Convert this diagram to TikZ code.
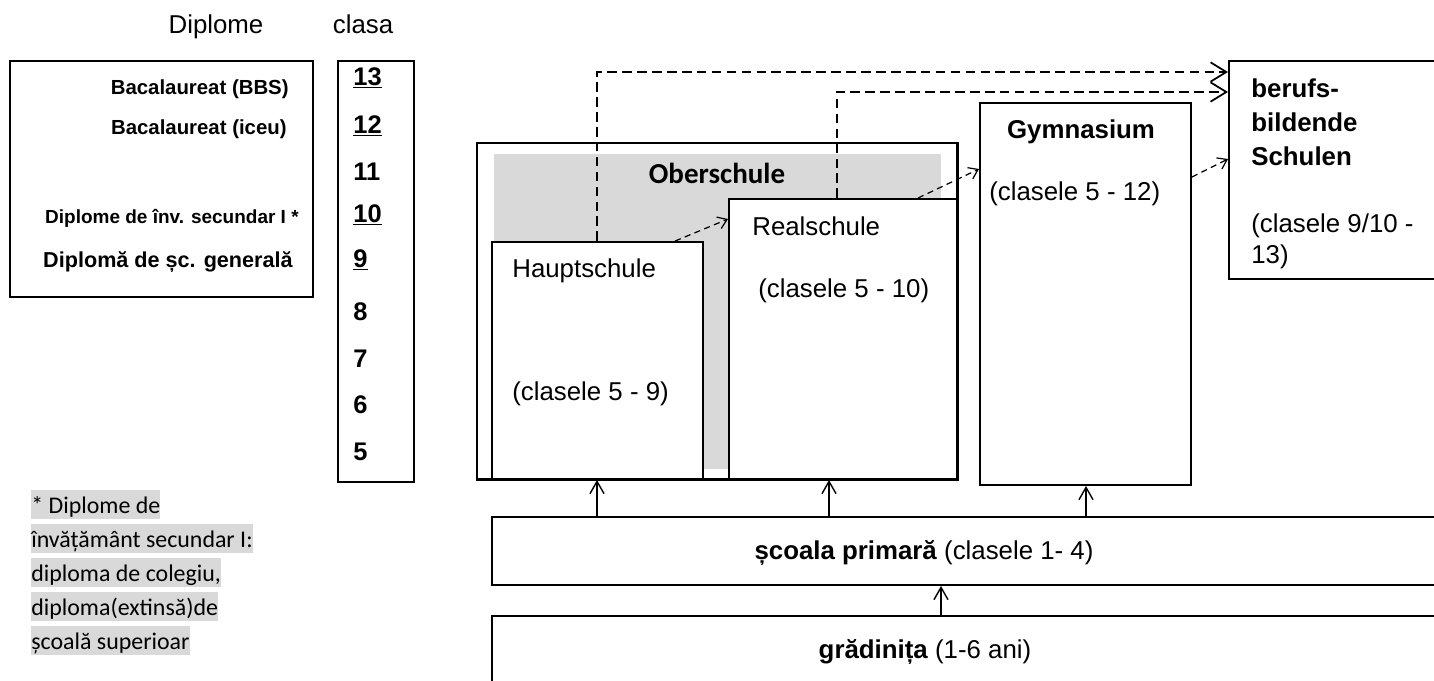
\documentclass[tikz,border=0pt]{standalone}
\usepackage{fontspec}
\setmainfont{Liberation Sans}[BoldFont={Liberation Sans Bold}]
\newfontfamily\calibri{Carlito}[BoldFont={Carlito Bold}]
\usetikzlibrary{arrows.meta,fit}
\definecolor{hilite}{RGB}{217,217,217}
\tikzset{
    box/.style={draw, line width=1.1pt, inner sep=0pt},
    lbl/.style={anchor=base west, inner sep=0pt, font=\fontsize{14.7}{17}\selectfont},
    blbl/.style={lbl, font=\bfseries\fontsize{14.7}{17}\selectfont},
    dlbl/.style={anchor=base east, inner sep=0pt, font=\bfseries\fontsize{11.6}{14}\selectfont},
    note/.style={anchor=base west, fill=hilite, inner sep=0pt, text height=13pt, text depth=3.4pt,
        font=\calibri\fontsize{13.6}{16}\selectfont},
    bigdash/.style={line width=1pt, dash pattern=on 5.5pt off 3pt, -{Straight Barb[length=9pt,width=11pt]}},
    smalldash/.style={line width=0.7pt, dash pattern=on 3.5pt off 2.5pt, -{Straight Barb[length=5pt,width=7pt]}},
    uparrow/.style={line width=0.8pt, -{Straight Barb[length=7pt,width=8pt]}}
}

\begin{document}
\begin{tikzpicture}[x=0.02cm,y=-0.02cm]
    \useasboundingbox (0,0) rectangle (1434,680);
    \clip (0,0) rectangle (1434,680);

    % headings
    \node[lbl, anchor=base] (hdipl) at (216,33) {Diplome};
    \node[lbl, anchor=base] (hcls) at (363,33) {clasa};

    % diplomas
    \node[box, fit={(10,61) (313,297)}] (dipl) {};
    \node[dlbl] (dbbs) at (289,94) {Bacalaureat (BBS)};
    \node[dlbl] (dlic) at (287,134) {Bacalaureat (iceu)};
    \node[dlbl, font=\bfseries\fontsize{10.8}{13}\selectfont] (dsec) at (299,223) {Diplome de înv. secundar I *};
    \node[dlbl, font=\bfseries\fontsize{12.3}{14}\selectfont] (dgen) at (293,267) {Diplomă de șc. generală};

    % classes
    \node[box, fit={(338,61) (414,482)}] (cls) {};
    \foreach \n/\yy [count=\i] in {{\underline{13}}/85, {\underline{12}}/133, 11/180, {\underline{10}}/222,
        {\underline{9}}/267, 8/320, 7/367, 6/413, 5/460}
        \node[blbl, font=\bfseries\fontsize{14.5}{17}\selectfont] (c\i) at (353,\yy) {\n};

    % footnote
    \foreach \t [count=\i from 0] in {* Diplome de, învățământ secundar I:, {diploma de colegiu,},
        diploma(extinsă)de, școală superioar}
        \node[note] (fn\i) at (31,513+34*\i) {\t};

    % Oberschule
    \node[box, line width=1.7pt, fit={(477,143) (957,479)}] (ober) {};
    \fill[hilite] (494,154) rectangle (941,469);
    \node[anchor=base, inner sep=0pt, font=\calibri\bfseries\fontsize{16.5}{19}\selectfont] (tober) at (717,183) {Oberschule};

    \node[box, fill=white, fit={(492,242) (703,479)}] (haupt) {};
    \node[lbl] (thaupt) at (512,277) {Hauptschule};
    \node[lbl] (khaupt) at (512,400) {(clasele 5 - 9)};

    \node[box, fill=white, fit={(729,199) (957,479)}] (real) {};
    \node[lbl] (treal) at (752,235) {Realschule};
    \node[lbl] (kreal) at (758,297) {(clasele 5 - 10)};

    % Gymnasium
    \node[box, fit={(980,103) (1191,485)}] (gym) {};
    \node[blbl, anchor=base] (tgym) at (1081,138) {Gymnasium};
    \node[lbl] (kgym) at (989,200) {(clasele 5 - 12)};

    % berufsbildende Schulen
    \node[box, fit={(1229,61) (1460,279)}] (beruf) {};
    \node[blbl] (tber1) at (1251,97) {berufs-};
    \node[blbl] (tber2) at (1251,131) {bildende};
    \node[blbl] (tber3) at (1251,165) {Schulen};
    \node[lbl] (kber1) at (1251,232) {(clasele 9/10 -};
    \node[lbl] (kber2) at (1251,263) {13)};

    % primary school and kindergarten
    \node[box, fit={(492,517) (1460,585)}] (prim) {};
    \node[lbl, anchor=base] (tprim) at (924,559) {\textbf{școala primară} (clasele 1- 4)};
    \node[box, fit={(492,616) (1460,700)}] (kita) {};
    \node[lbl, anchor=base] (tkita) at (925,658) {\textbf{grădinița} (1-6 ani)};

    % transitions
    \draw[bigdash] (597,0 |- haupt.north) |- (beruf.west |- 0,72);
    \draw[bigdash] (837,0 |- real.north) |- (beruf.west |- 0,92);
    \draw[smalldash] (675,0 |- haupt.north) -- (real.west |- 0,219);
    \draw[smalldash] (918,0 |- real.north) -- (gym.west |- 0,169);
    \draw[smalldash] (gym.east |- 0,177) -- (beruf.west |- 0,159);

    \draw[uparrow] (597,0 |- prim.north) -- (597,0 |- haupt.south);
    \draw[uparrow] (829,0 |- prim.north) -- (829,0 |- real.south);
    \draw[uparrow] (1086,0 |- prim.north) -- (1086,0 |- gym.south);
    \draw[uparrow] (941,0 |- kita.north) -- (941,0 |- prim.south);
\end{tikzpicture}
\end{document}
